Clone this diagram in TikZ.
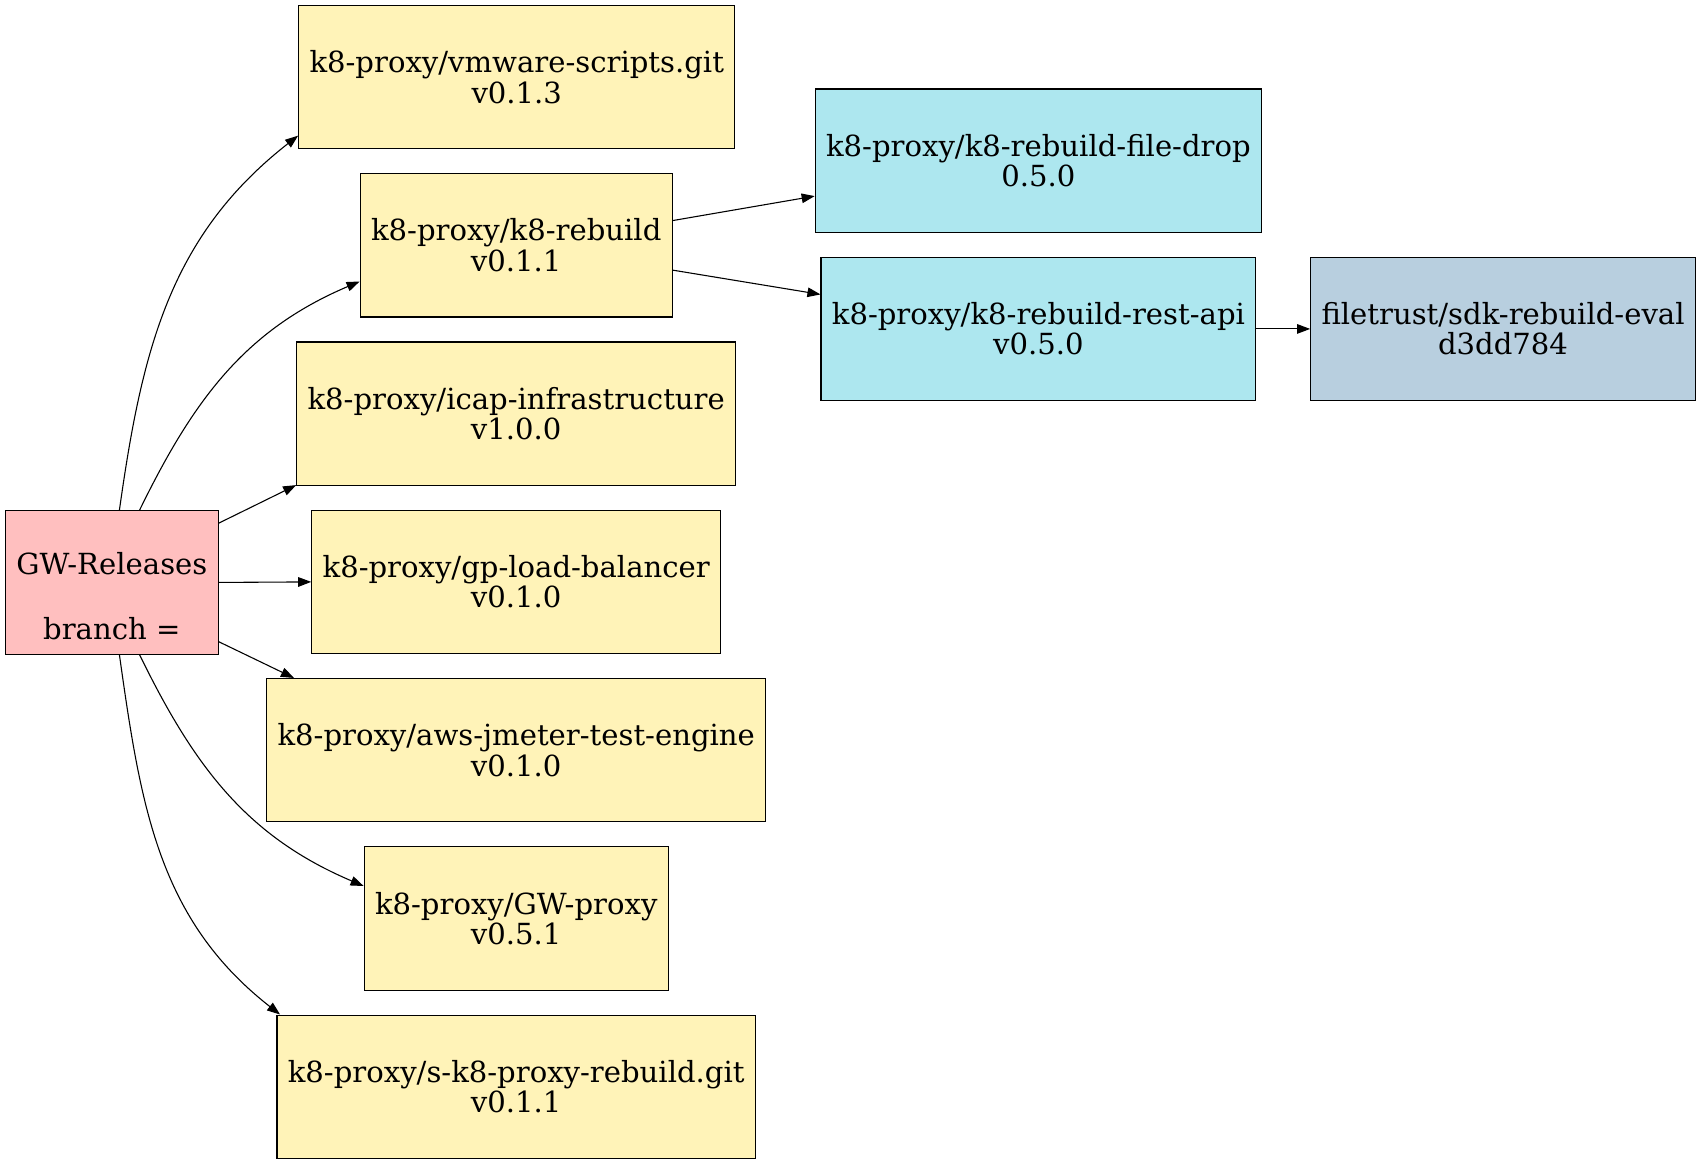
\documentclass[tikz,border=0pt]{standalone}
\usepackage{fontspec}
\setmainfont{DejaVu Serif}
\usepackage{xcolor}
\usepackage{tikz}
\usetikzlibrary{arrows.meta}
\usetikzlibrary{positioning}
\definecolor{relpink}{HTML}{FFBFBF}
\definecolor{repoyellow}{HTML}{FFF3B8}
\definecolor{depcyan}{HTML}{ADE7EF}
\definecolor{sdkblue}{HTML}{B8CFDF}
\tikzstyle{rootnode}=[black, draw=black, line width=0.5pt, shape=rectangle, fill=relpink, minimum width=98pt, minimum height=66pt, inner sep=5pt, align=center, font=\fontsize{13.4}{14}\selectfont]
\tikzstyle{reponode}=[black, draw=black, line width=0.5pt, shape=rectangle, fill=repoyellow, minimum height=66pt, inner xsep=5pt, align=center, font=\fontsize{13.4}{14}\selectfont]
\tikzstyle{depnode}=[reponode, fill=depcyan]
\tikzstyle{sdknode}=[reponode, fill=sdkblue]
\tikzstyle{dep}=[-{Triangle[length=6pt, width=4.4pt]}, line width=0.5pt, color=black]

\begin{document}
\begin{tikzpicture}[x=0.5pt, y=-0.5pt]
\useasboundingbox (0,0) rectangle (1565,1070);
\node [rootnode] (gw) at (103,536.5) {\rule{0pt}{23pt}GW-Releases\\[16pt]branch =};
\node [reponode] (vmware) at (476,71) {k8-proxy/vmware-scripts.git\\v0.1.3};
\node [reponode] (rebuild) at (475.5,226) {k8-proxy/k8-rebuild\\v0.1.1};
\node [reponode] (icap) at (475.5,381) {k8-proxy/icap-infrastructure\\v1.0.0};
\node [reponode] (lb) at (475.5,536) {k8-proxy/gp-load-balancer\\v0.1.0};
\node [reponode] (jmeter) at (475.5,691) {k8-proxy/aws-jmeter-test-engine\\v0.1.0};
\node [reponode] (gwproxy) at (475.5,846) {k8-proxy/GW-proxy\\v0.5.1};
\node [reponode] (sproxy) at (475.5,1001) {k8-proxy/s-k8-proxy-rebuild.git\\v0.1.1};
\node [depnode] (filedrop) at (956.5,148) {k8-proxy/k8-rebuild-file-drop\\0.5.0};
\node [depnode] (restapi) at (956.5,303) {k8-proxy/k8-rebuild-rest-api\\v0.5.0};
\node [sdknode] (sdk) at (1384.5,303) {filetrust/sdk-rebuild-eval\\d3dd784};

\draw[dep] (gw.84) to[out=82, in=218] (vmware.195);
\draw[dep] (gw.69) to[out=64, in=203] (rebuild.193);
\draw[dep] (gw.29.5) -- (icap.198);
\draw[dep] (gw.east) -- (lb.west);
\draw[dep] (gw.-29.5) -- (jmeter.162);
\draw[dep] (gw.-69) to[out=-64, in=157] (gwproxy.168);
\draw[dep] (gw.-84) to[out=-82, in=142] (sproxy.163);
\draw[dep] (rebuild.9) -- (filedrop.189);
\draw[dep] (rebuild.-9) -- (restapi.171);
\draw[dep] (restapi.east) -- (sdk.west);
\end{tikzpicture}
\end{document}
